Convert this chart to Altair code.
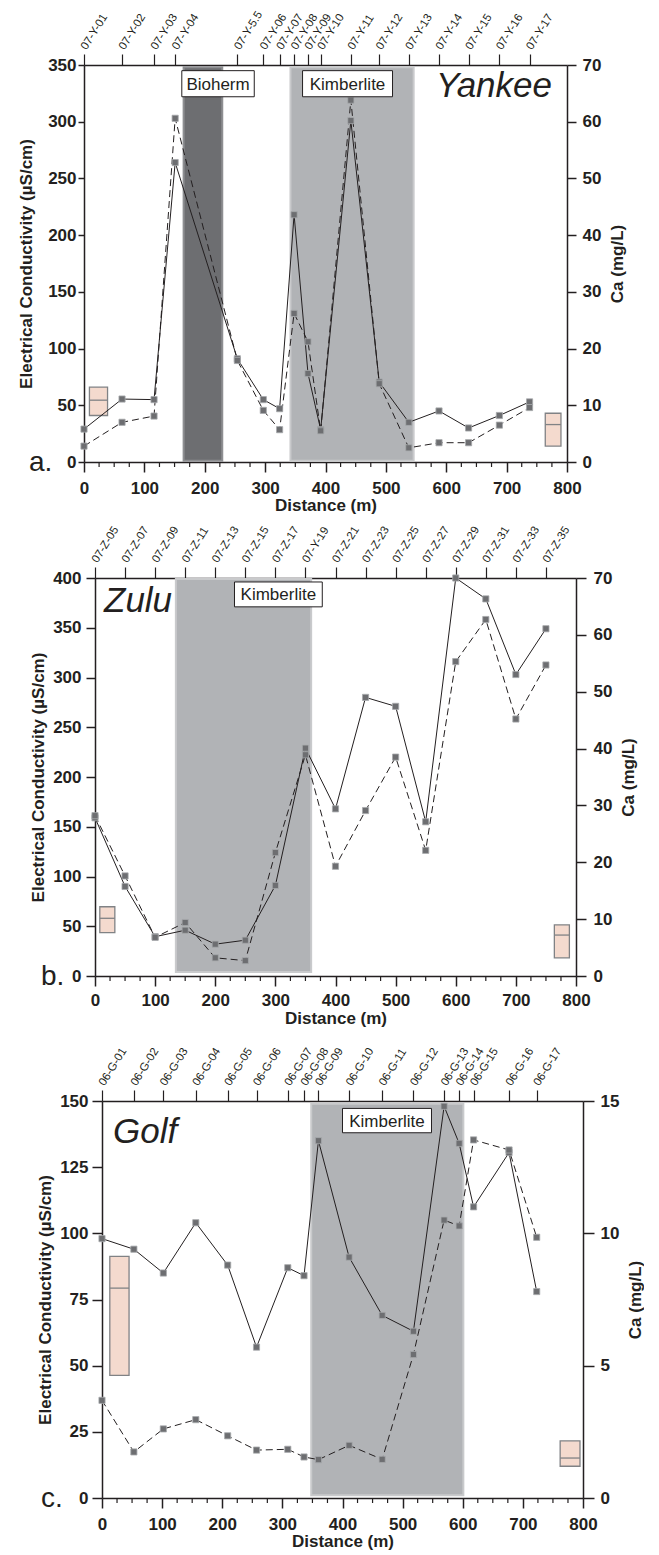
import altair as alt
import pandas as pd

FONT = "Liberation Sans"
INK = "#231f20"
MARK_FILL = "#6d6e71"
MARK_EDGE = "#a7a9ac"
KIMB = "#b1b3b6"
KIMB_EDGE = "#c9cacc"
BIOH = "#6d6e71"
BIOH_EDGE = "#8e8f92"
BOX_FILL = "#f4dace"
BOX_EDGE = "#808285"

# ---------------- a. Yankee ----------------
a_samples = ["07-Y-01", "07-Y-02", "07-Y-03", "07-Y-04", "07-Y-5.5", "07-Y-06", "07-Y-07",
             "07-Y-08", "07-Y-09", "07-Y-10", "07-Y-11", "07-Y-12", "07-Y-13", "07-Y-14",
             "07-Y-15", "07-Y-16", "07-Y-17"]
a_dist = [0, 63, 116, 151, 254, 297, 324, 348, 371, 392, 442, 489, 538, 588, 637, 688, 738]
a_ec = [29, 55.5, 55, 264, 91, 55, 47, 218, 78, 28.5, 301, 70.5, 35, 45, 30, 41, 53]
a_ca = [2.8, 7.0, 8.1, 60.6, 17.9, 9.1, 5.7, 26.2, 21.2, 5.5, 63.8, 13.8, 2.5, 3.4, 3.4, 6.5, 9.6]
a_zone_kind = ["Bioherm", "Kimberlite"]
a_zone_from = [165, 342]
a_zone_to = [229, 546]
a_zone_ec = [1, 348]
a_label_text = ["Bioherm", "Kimberlite"]
a_label_from = [162, 362]
a_label_to = [282, 511]
a_label_ec = [[322, 345], [322, 345]]
a_lbox = [9, 39, 41, 66, 54.5]      # dist from, dist to, low, high, median (EC)
a_rbox = [764, 790, 2.8, 8.6, 6.6]  # (Ca)

# ---------------- b. Zulu ----------------
b_samples = ["07-Z-05", "07-Z-07", "07-Z-09", "07-Z-11", "07-Z-13", "07-Z-15", "07-Z-17",
             "07-Y-19", "07-Z-21", "07-Z-23", "07-Z-25", "07-Z-27", "07-Z-29", "07-Z-31",
             "07-Z-33", "07-Z-35"]
b_dist = [0, 50, 100, 150, 200, 250, 300, 350, 400, 450, 500, 550, 600, 650, 700, 750]
b_ec = [159, 90, 39.5, 46, 32, 36, 91, 229, 168, 280, 271, 155, 400, 379, 303, 349]
b_ca = [28.2, 17.6, 6.8, 9.4, 3.2, 2.7, 21.7, 38.9, 19.3, 29.1, 38.5, 22.1, 55.3, 62.7, 45.2, 54.7]
b_zone_kind = ["Kimberlite"]
b_zone_from = [134.5]
b_zone_to = [359.5]
b_zone_ec = [4, 399]
b_label_text = ["Kimberlite"]
b_label_from = [232]
b_label_to = [378]
b_label_ec = [[371, 396]]
b_lbox = [8, 33, 43.5, 69.6, 58]
b_rbox = [764, 789, 3.2, 9.0, 7.2]

# ---------------- c. Golf ----------------
c_samples = ["06-G-01", "06-G-02", "06-G-03", "06-G-04", "06-G-05", "06-G-06", "06-G-07",
             "06-G-08", "06-G-09", "06-G-10", "06-G-11", "06-G-12", "06-G-13", "06-G-14",
             "06-G-15", "06-G-16", "06-G-17"]
c_dist = [0, 53, 102, 156, 209, 257, 309, 336, 360, 411, 466, 518, 569, 594, 618, 677, 723]
c_ec = [98, 94, 85, 104, 88, 57, 87, 84, 135, 91, 69, 63, 148, 134, 110, 130.5, 78]
c_ca = [3.69, 1.74, 2.61, 2.96, 2.35, 1.81, 1.84, 1.55, 1.45, 1.99, 1.46, 5.42, 10.5, 10.28,
        13.53, 13.15, 9.85]
c_zone_kind = ["Kimberlite"]
c_zone_from = [348]
c_zone_to = [601]
c_zone_ec = [1, 149]
c_label_text = ["Kimberlite"]
c_label_from = [400]
c_label_to = [548]
c_label_ec = [[138, 147.2]]
c_lbox = [13, 45, 46.3, 91.3, 79.3]
c_rbox = [762, 795, 1.2, 2.16, 1.51]

x_major = [0, 100, 200, 300, 400, 500, 600, 700, 800]
x_minor = [v for v in range(0, 801, 25) if v % 100 != 0]

ORIGIN = 101  # page x of the common plot origin


def panel(p):
    W, H = p["W"], p["H"]
    sh = p["shift"]
    xs = alt.Scale(domain=[0, 800], range=[-sh, W], nice=False, zero=False)
    ecs = alt.Scale(domain=[0, p["ec_max"]], nice=False, zero=False)
    cas = alt.Scale(domain=[0, p["ca_max"]], nice=False, zero=False)

    df = pd.DataFrame({"dist": p["dist"], "ec": p["ec"], "ca": p["ca"], "sample": p["samples"]})

    zones = pd.DataFrame({"x": p["zone_from"], "x2": p["zone_to"], "kind": p["zone_kind"]})
    zones["y"] = p["zone_ec"][0]
    zones["y2"] = p["zone_ec"][1]
    kinds = ["Bioherm", "Kimberlite"]
    zone_layer = alt.Chart(zones).mark_rect(strokeWidth=2).encode(
        x=alt.X("x:Q", scale=xs, axis=None), x2="x2:Q",
        y=alt.Y("y:Q", scale=ecs, axis=None), y2="y2:Q",
        fill=alt.Fill("kind:N", scale=alt.Scale(domain=kinds, range=[BIOH, KIMB]), legend=None),
        stroke=alt.Stroke("kind:N", scale=alt.Scale(domain=kinds, range=[BIOH_EDGE, KIMB_EDGE]), legend=None),
    )

    lb = p["lbox"]
    lbox = pd.DataFrame({"x": [lb[0]], "x2": [lb[1]], "lo": [lb[2]], "hi": [lb[3]], "med": [lb[4]]})
    lbox_rect = alt.Chart(lbox).mark_rect(fill=BOX_FILL, stroke=BOX_EDGE, strokeWidth=1.3).encode(
        x=alt.X("x:Q", scale=xs, axis=None), x2="x2:Q",
        y=alt.Y("lo:Q", scale=ecs, axis=None), y2="hi:Q")
    lbox_med = alt.Chart(lbox).mark_rule(color=BOX_EDGE, strokeWidth=1.3).encode(
        x=alt.X("x:Q", scale=xs, axis=None), x2="x2:Q",
        y=alt.Y("med:Q", scale=ecs, axis=None))

    rb = p["rbox"]
    rbox = pd.DataFrame({"x": [rb[0]], "x2": [rb[1]], "lo": [rb[2]], "hi": [rb[3]], "med": [rb[4]]})
    rbox_rect = alt.Chart(rbox).mark_rect(fill=BOX_FILL, stroke=BOX_EDGE, strokeWidth=1.3).encode(
        x=alt.X("x:Q", scale=xs, axis=None), x2="x2:Q",
        y=alt.Y("lo:Q", scale=cas, axis=None), y2="hi:Q")
    rbox_med = alt.Chart(rbox).mark_rule(color=BOX_EDGE, strokeWidth=1.3).encode(
        x=alt.X("x:Q", scale=xs, axis=None), x2="x2:Q",
        y=alt.Y("med:Q", scale=cas, axis=None))

    ec_line = alt.Chart(df).mark_line(color=INK, strokeWidth=1).encode(
        x=alt.X("dist:Q", scale=xs, axis=alt.Axis(
            orient="bottom", values=x_major, format="d", title="Distance (m)",
            tickSize=10, labelPadding=p["xlp"], titlePadding=p["xtp"],
            labelFlush=False, labelOverlap=False)),
        y=alt.Y("ec:Q", scale=ecs, axis=alt.Axis(
            orient="left", values=p["ec_ticks"], format="d", offset=sh,
            title="Electrical Conductivity (µS/cm)",
            tickSize=p["ly_tick"], labelPadding=p["ly_lp"], titlePadding=p["ly_tp"],
            labelOverlap=False)),
    )
    ec_pts = alt.Chart(df).mark_square(size=38, fill=MARK_FILL, stroke=MARK_EDGE,
                                       strokeWidth=0.8, opacity=1).encode(
        x=alt.X("dist:Q", scale=xs, axis=None),
        y=alt.Y("ec:Q", scale=ecs, axis=None))

    ca_line = alt.Chart(df).mark_line(color=INK, strokeWidth=1, strokeDash=[7, 4]).encode(
        x=alt.X("dist:Q", scale=xs, axis=alt.Axis(
            orient="top", values=p["dist"], labels=False, title=None,
            tickSize=11, tickWidth=1.2)),
        y=alt.Y("ca:Q", scale=cas, axis=alt.Axis(
            orient="right", values=p["ca_ticks"], format="d", title="Ca (mg/L)",
            titleAngle=270, titleBaseline="top",
            tickSize=p["ry_tick"], labelPadding=p["ry_lp"], titlePadding=p["ry_tp"],
            labelOverlap=False)),
    )
    ca_pts = alt.Chart(df).mark_square(size=38, fill=MARK_FILL, stroke=MARK_EDGE,
                                       strokeWidth=0.8, opacity=1).encode(
        x=alt.X("dist:Q", scale=xs, axis=None),
        y=alt.Y("ca:Q", scale=cas, axis=None))

    top_labels = alt.Chart(df).mark_text(
        font=FONT, fontSize=11.5, color=INK, angle=302, align="left", baseline="middle").encode(
        x=alt.X("dist:Q", scale=xs, axis=None),
        y=alt.value(-16), text="sample:N")

    minor = alt.Chart(pd.DataFrame({"m": x_minor})).mark_rule(color=INK, strokeWidth=1.2).encode(
        x=alt.X("m:Q", scale=xs, axis=None),
        y=alt.value(H), y2=alt.value(H + 5))

    labs = pd.DataFrame({
        "x": p["label_from"], "x2": p["label_to"],
        "y": [e[0] for e in p["label_ec"]], "y2": [e[1] for e in p["label_ec"]],
        "text": p["label_text"],
    })
    labs["xc"] = (labs["x"] + labs["x2"]) / 2
    labs["yc"] = (labs["y"] + labs["y2"]) / 2
    lab_box = alt.Chart(labs).mark_rect(fill="white", stroke=INK, strokeWidth=1).encode(
        x=alt.X("x:Q", scale=xs, axis=None), x2="x2:Q",
        y=alt.Y("y:Q", scale=ecs, axis=None), y2="y2:Q")
    lab_txt = alt.Chart(labs).mark_text(font=FONT, fontSize=17, color=INK,
                                        baseline="middle", align="center", dy=1).encode(
        x=alt.X("xc:Q", scale=xs, axis=None),
        y=alt.Y("yc:Q", scale=ecs, axis=None),
        text="text:N")

    name = alt.Chart(pd.DataFrame({"t": [p["name"]]})).mark_text(
        font=FONT, fontSize=35, fontStyle="italic", color=INK,
        align=p["name_align"], baseline="alphabetic").encode(
        x=alt.value(p["name_x"] - ORIGIN), y=alt.value(p["name_y"]), text="t:N")

    letter = alt.Chart(pd.DataFrame({"t": [p["letter"]]})).mark_text(
        font=FONT, fontSize=28, color=INK, align="left", baseline="alphabetic").encode(
        x=alt.value(p["letter_x"] - ORIGIN), y=alt.value(H + 9), text="t:N")

    spacer = alt.Chart(pd.DataFrame({"s": [0]})).mark_rule(color="white", strokeWidth=1).encode(
        x=alt.value(-ORIGIN), y=alt.value(-p["top_ext"]), y2=alt.value(H + p["bottom_ext"]))

    return alt.layer(
        spacer, zone_layer, lbox_rect, lbox_med, rbox_rect, rbox_med,
        ec_line, ca_line, ec_pts, ca_pts, top_labels, minor, lab_box, lab_txt, name, letter
    ).resolve_scale(y="independent").resolve_axis(x="independent", y="independent").properties(
        width=W, height=H)


# page-x positions: plot left / right edges
pa = panel(dict(
    W=566 - ORIGIN, H=397, shift=ORIGIN - 83, top_ext=64, bottom_ext=57,
    dist=a_dist, ec=a_ec, ca=a_ca, samples=a_samples,
    ec_max=350, ca_max=70, ec_ticks=[0, 50, 100, 150, 200, 250, 300, 350],
    ca_ticks=[0, 10, 20, 30, 40, 50, 60, 70],
    zone_kind=a_zone_kind, zone_from=a_zone_from, zone_to=a_zone_to, zone_ec=a_zone_ec,
    label_text=a_label_text, label_from=a_label_from, label_to=a_label_to, label_ec=a_label_ec,
    lbox=a_lbox, rbox=a_rbox,
    name="Yankee", name_align="right", name_x=551, name_y=32,
    letter="a.", letter_x=28,
    xlp=8, xtp=1, ly_tick=6, ly_lp=2, ly_tp=12, ry_tick=9, ry_lp=6, ry_tp=9,
))

pb = panel(dict(
    W=575 - ORIGIN, H=398, shift=ORIGIN - 94, top_ext=57, bottom_ext=58,
    dist=b_dist, ec=b_ec, ca=b_ca, samples=b_samples,
    ec_max=400, ca_max=70, ec_ticks=[0, 50, 100, 150, 200, 250, 300, 350, 400],
    ca_ticks=[0, 10, 20, 30, 40, 50, 60, 70],
    zone_kind=b_zone_kind, zone_from=b_zone_from, zone_to=b_zone_to, zone_ec=b_zone_ec,
    label_text=b_label_text, label_from=b_label_from, label_to=b_label_to, label_ec=b_label_ec,
    lbox=b_lbox, rbox=b_rbox,
    name="Zulu", name_align="left", name_x=103, name_y=34,
    letter="b.", letter_x=40,
    xlp=6, xtp=2, ly_tick=9, ly_lp=5, ly_tp=5, ry_tick=10, ry_lp=7, ry_tp=9,
))

pc = panel(dict(
    W=582 - ORIGIN, H=397, shift=0, top_ext=65, bottom_ext=56,
    dist=c_dist, ec=c_ec, ca=c_ca, samples=c_samples,
    ec_max=150, ca_max=15, ec_ticks=[0, 25, 50, 75, 100, 125, 150],
    ca_ticks=[0, 5, 10, 15],
    zone_kind=c_zone_kind, zone_from=c_zone_from, zone_to=c_zone_to, zone_ec=c_zone_ec,
    label_text=c_label_text, label_from=c_label_from, label_to=c_label_to, label_ec=c_label_ec,
    lbox=c_lbox, rbox=c_rbox,
    name="Golf", name_align="left", name_x=112, name_y=42,
    letter="c.", letter_x=40,
    xlp=8, xtp=1, ly_tick=10, ly_lp=4, ly_tp=5, ry_tick=11, ry_lp=6, ry_tp=9,
))

chart = alt.vconcat(pa, pb, pc, spacing=0).properties(padding=0).configure(
    font=FONT
).configure_view(stroke=None).configure_axis(
    labelFont=FONT, titleFont=FONT, labelFontSize=17, titleFontSize=17,
    labelFontWeight="bold", titleFontWeight="bold",
    labelColor=INK, titleColor=INK, domainColor=INK, tickColor=INK,
    domainWidth=1.5, tickWidth=1.5, grid=False,
)

chart.save("out.html", embed_options={"renderer": "svg", "actions": False})
